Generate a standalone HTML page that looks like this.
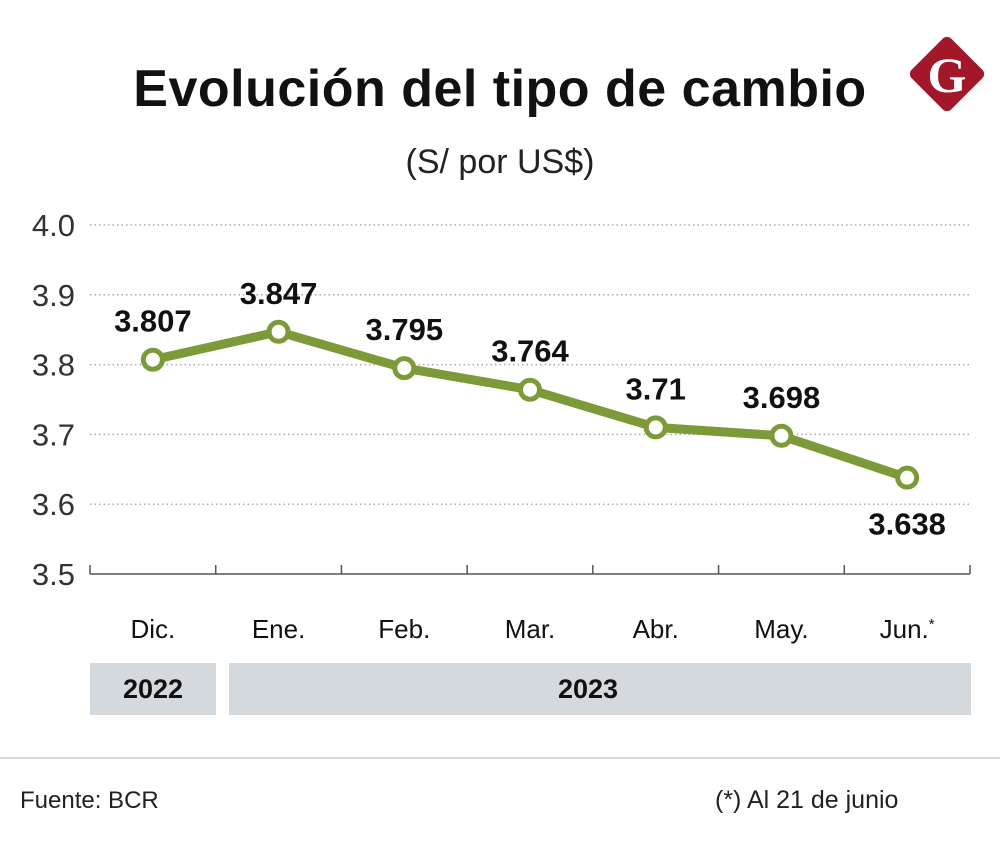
<!DOCTYPE html>
<html><head><meta charset="utf-8"><style>
body{margin:0;background:#fff;width:1000px;height:846px;overflow:hidden;font-family:"Liberation Sans","DejaVu Sans",sans-serif;}
svg{display:block}
</style></head><body>
<svg id="chart" width="1000" height="846" viewBox="0 0 1000 846">
<text x="500" y="106" text-anchor="middle" font-size="52" font-weight="bold" fill="#111" style="letter-spacing:0.5px">Evolución del tipo de cambio</text>
<text x="500" y="173" text-anchor="middle" font-size="34" fill="#222">(S/ por US$)</text>
<g>
<rect x="919" y="46" width="56" height="56" rx="6" fill="#a3172b" transform="rotate(45 947 74)"/>
<text x="947" y="92" text-anchor="middle" font-size="50" font-weight="bold" font-family="Liberation Serif,serif" fill="#fff">G</text>
</g>
<g id="grid"></g>
<g id="marks"></g>
<rect x="90" y="663" width="126" height="52" fill="#d3d9dc"/>
<text x="153" y="698" text-anchor="middle" font-size="27" font-weight="bold" fill="#111">2022</text>
<rect x="229" y="663" width="742" height="52" fill="#d3d9dc"/>
<text x="588" y="698" text-anchor="middle" font-size="27" font-weight="bold" fill="#111">2023</text>
<line x1="0" y1="758" x2="1000" y2="758" stroke="#ccc" stroke-width="1.5"/>
<text x="20" y="808" font-size="24" fill="#222">Fuente: BCR</text>
<text x="715" y="808" font-size="25" fill="#222">(*) Al 21 de junio</text>
</svg>
<script>
const categories=["Dic.","Ene.","Feb.","Mar.","Abr.","May.","Jun.*"];
const values=[3.807,3.847,3.795,3.764,3.71,3.698,3.638];
const valueLabels=["3.807","3.847","3.795","3.764","3.71","3.698","3.638"];
const yTicks=[3.5,3.6,3.7,3.8,3.9,4.0];
const yTickLabels=["3.5","3.6","3.7","3.8","3.9","4.0"];

const NS="http://www.w3.org/2000/svg";
const X0=90,X1=970,Y0=574,Y1=225,VMIN=3.5,VMAX=4.0;
const bw=(X1-X0)/categories.length;
function xPos(i){return X0+bw*(i+0.5);}
function yPos(v){return Y0-(v-VMIN)/(VMAX-VMIN)*(Y0-Y1);}
function mk(tag,attrs,parent){const e=document.createElementNS(NS,tag);for(const k in attrs)e.setAttribute(k,attrs[k]);parent.appendChild(e);return e;}
const grid=document.getElementById('grid'),marks=document.getElementById('marks');
yTicks.forEach((t,i)=>{
  const y=yPos(t);
  if(i>0){const l=mk('line',{x1:X0,x2:X1,y1:y,y2:y,stroke:'#aaa','stroke-width':1.5,'stroke-dasharray':'1.5 3'},grid);
  
  }
  const tx=mk('text',{x:75,y:y+11,'text-anchor':'end','font-size':31,fill:'#333'},grid);
  tx.textContent=yTickLabels[i];
  
  
});
const ax=mk('line',{x1:X0,x2:X1,y1:Y0,y2:Y0,stroke:'#555','stroke-width':1.5},grid);


for(let i=0;i<=categories.length;i++){
  const x=X0+bw*i;
  const tk=mk('line',{x1:x,x2:x,y1:Y0-9,y2:Y0,stroke:'#555','stroke-width':1.5},grid);
  
  
}
categories.forEach((c,i)=>{
  const t=mk('text',{x:xPos(i),y:638,'text-anchor':'middle','font-size':26,fill:'#111'},grid);
  if(c.endsWith('*')){t.textContent=c.slice(0,-1);const s=mk('tspan',{'font-size':15,dy:-9},t);s.textContent='*';}
  else t.textContent=c;
  
  
});
const pts=values.map((v,i)=>xPos(i)+','+yPos(v)).join(' ');
const pl=mk('polyline',{points:pts,fill:'none',stroke:'#7d9a38','stroke-width':9,'stroke-linejoin':'round'},marks);


values.forEach((v,i)=>{
  const c=mk('circle',{cx:xPos(i),cy:yPos(v),r:9.5,fill:'#fff',stroke:'#7d9a38','stroke-width':5},marks);
  
  
  const below=i===values.length-1;
  const t=mk('text',{x:xPos(i),y:below?yPos(v)+57:yPos(v)-28,'text-anchor':'middle','font-size':31,'font-weight':'bold',fill:'#111'},marks);
  t.textContent=valueLabels[i];
  
  
});
</script>
</body></html>
